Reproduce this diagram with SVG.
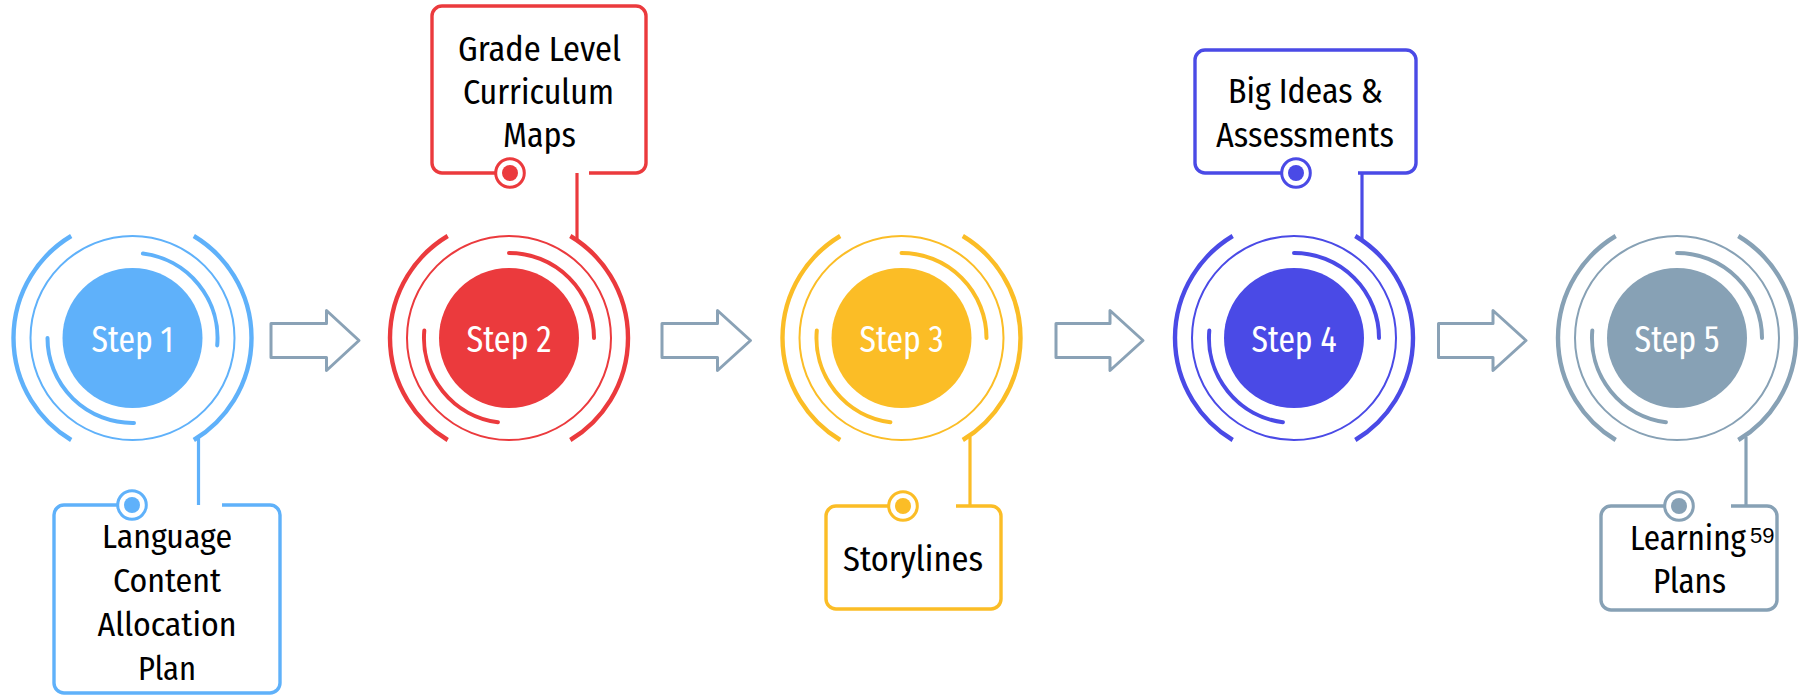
<svg xmlns="http://www.w3.org/2000/svg" width="1806" height="697" viewBox="0 0 1806 697">
<style>
.s1{stroke:#5FB1FA;fill:#5FB1FA}
.s2{stroke:#EB3A3D;fill:#EB3A3D}
.s3{stroke:#FBBD26;fill:#FBBD26}
.s4{stroke:#4A4AE6;fill:#4A4AE6}
.s5{stroke:#87A1B5;fill:#87A1B5}
.outer{fill:none;stroke-width:4.4;stroke-linecap:butt}
.thin{fill:none;stroke-width:2}
.inner{fill:none;stroke-width:4;stroke-linecap:round}
.core{stroke:none}
.step{fill:#FFFFFF;stroke:none;font-family:"Fira Sans Condensed","Open Sans","Roboto",sans-serif;font-stretch:condensed;font-size:36px;text-anchor:middle}
.box{fill:none;stroke-width:3.4;stroke-linejoin:round;stroke-linecap:butt}
.ring{fill:#FFFFFF;stroke-width:3}
.dot{stroke:none}
.lbl{fill:#000000;stroke:none;font-family:"Fira Sans Condensed","Open Sans","Roboto",sans-serif;font-stretch:condensed;font-size:35px;text-anchor:middle}
.link{fill:none;stroke-width:3.2}
.arrow{fill:#FFFFFF;stroke:#8AA2B6;stroke-width:3;stroke-linejoin:round}
</style>
<rect width="1806" height="697" fill="#FFFFFF"/>

<g id="connectors">
  <path class="arrow" d="M271,323.5 H326.5 V310.5 L359,340.5 L326.5,370.5 V357.5 H271 Z"/>
  <path class="arrow" d="M662,323.5 H717.5 V310.5 L750.5,340.5 L717.5,370.5 V357.5 H662 Z"/>
  <path class="arrow" d="M1056,323.5 H1110 V310.5 L1143,340.5 L1110,370.5 V357.5 H1056 Z"/>
  <path class="arrow" d="M1438.5,323.5 H1493 V310.5 L1526,340.5 L1493,370.5 V357.5 H1438.5 Z"/>
  <line class="link s1" x1="198.5" y1="437" x2="198.5" y2="505"/>
  <line class="link s2" x1="577" y1="239" x2="577" y2="173"/>
  <line class="link s3" x1="970" y1="437" x2="970" y2="506"/>
  <line class="link s4" x1="1362" y1="239" x2="1362" y2="173"/>
  <line class="link s5" x1="1746" y1="437" x2="1746" y2="506"/>
</g>

<g id="step1">
  <path class="outer s1" d="M71.2,236 A119 119 0 0 0 71.2,440 M193.8,236 A119 119 0 0 1 193.8,440"/>
  <circle class="thin s1" cx="132.5" cy="338" r="102"/>
  <path class="inner s1" d="M142.9,253.6 A85 85 0 0 1 217.2,345.4 M47.5,338 A85 85 0 0 0 134,423"/>
  <circle class="core s1" cx="132.5" cy="338" r="70"/>
  <text class="step" x="132.5" y="352" textLength="82" lengthAdjust="spacingAndGlyphs">Step 1</text>
</g>

<g id="step2">
  <path class="outer s2" d="M447.7,236 A119 119 0 0 0 447.7,440 M570.3,236 A119 119 0 0 1 570.3,440"/>
  <circle class="thin s2" cx="509" cy="338" r="102"/>
  <path class="inner s2" d="M509,253 A85 85 0 0 1 594,338 M424.3,330.6 A85 85 0 0 0 497.9,422.3"/>
  <circle class="core s2" cx="509" cy="338" r="70"/>
  <text class="step" x="509" y="352" textLength="85" lengthAdjust="spacingAndGlyphs">Step 2</text>
</g>

<g id="step3">
  <path class="outer s3" d="M840.2,236 A119 119 0 0 0 840.2,440 M962.8,236 A119 119 0 0 1 962.8,440"/>
  <circle class="thin s3" cx="901.5" cy="338" r="102"/>
  <path class="inner s3" d="M901.5,253 A85 85 0 0 1 986.5,338 M816.8,330.6 A85 85 0 0 0 890.4,422.3"/>
  <circle class="core s3" cx="901.5" cy="338" r="70"/>
  <text class="step" x="901.5" y="352" textLength="84" lengthAdjust="spacingAndGlyphs">Step 3</text>
</g>

<g id="step4">
  <path class="outer s4" d="M1232.7,236 A119 119 0 0 0 1232.7,440 M1355.3,236 A119 119 0 0 1 1355.3,440"/>
  <circle class="thin s4" cx="1294" cy="338" r="102"/>
  <path class="inner s4" d="M1294,253 A85 85 0 0 1 1379,338 M1209.3,330.6 A85 85 0 0 0 1282.9,422.3"/>
  <circle class="core s4" cx="1294" cy="338" r="70"/>
  <text class="step" x="1294" y="352" textLength="85" lengthAdjust="spacingAndGlyphs">Step 4</text>
</g>

<g id="step5">
  <path class="outer s5" d="M1615.7,236 A119 119 0 0 0 1615.7,440 M1738.3,236 A119 119 0 0 1 1738.3,440"/>
  <circle class="thin s5" cx="1677" cy="338" r="102"/>
  <path class="inner s5" d="M1677,253 A85 85 0 0 1 1762,338 M1592.3,330.6 A85 85 0 0 0 1665.9,422.3"/>
  <circle class="core s5" cx="1677" cy="338" r="70"/>
  <text class="step" x="1677" y="352" textLength="85" lengthAdjust="spacingAndGlyphs">Step 5</text>
</g>

<g id="box1">
  <path class="box s1" d="M222,505 H270 A10 10 0 0 1 280,515 V683 A10 10 0 0 1 270,693 H64 A10 10 0 0 1 54,683 V515 A10 10 0 0 1 64,505 H132"/>
  <circle class="ring s1" cx="132" cy="505" r="14.3"/>
  <circle class="dot s1" cx="132" cy="505" r="8"/>
  <text class="lbl" style="font-size:33px" x="167" y="548" textLength="130" lengthAdjust="spacingAndGlyphs">Language</text>
  <text class="lbl" style="font-size:33px" x="167" y="592" textLength="108" lengthAdjust="spacingAndGlyphs">Content</text>
  <text class="lbl" style="font-size:33px" x="167" y="636" textLength="139" lengthAdjust="spacingAndGlyphs">Allocation</text>
  <text class="lbl" style="font-size:33px" x="167" y="680" textLength="58" lengthAdjust="spacingAndGlyphs">Plan</text>
</g>

<g id="box2">
  <path class="box s2" d="M589,173 H636 A10 10 0 0 0 646,163 V16 A10 10 0 0 0 636,6 H442 A10 10 0 0 0 432,16 V163 A10 10 0 0 0 442,173 H510"/>
  <circle class="ring s2" cx="510" cy="173" r="14.3"/>
  <circle class="dot s2" cx="510" cy="173" r="8"/>
  <text class="lbl" x="539.5" y="61" textLength="163" lengthAdjust="spacingAndGlyphs">Grade Level</text>
  <text class="lbl" x="538.5" y="104" textLength="151" lengthAdjust="spacingAndGlyphs">Curriculum</text>
  <text class="lbl" x="539.5" y="147" textLength="73" lengthAdjust="spacingAndGlyphs">Maps</text>
</g>

<g id="box3">
  <path class="box s3" d="M956,506 H991 A10 10 0 0 1 1001,516 V599 A10 10 0 0 1 991,609 H836 A10 10 0 0 1 826,599 V516 A10 10 0 0 1 836,506 H903"/>
  <circle class="ring s3" cx="903" cy="506" r="14.3"/>
  <circle class="dot s3" cx="903" cy="506" r="8"/>
  <text class="lbl" x="913" y="571" textLength="140" lengthAdjust="spacingAndGlyphs">Storylines</text>
</g>

<g id="box4">
  <path class="box s4" d="M1358,173 H1406 A10 10 0 0 0 1416,163 V60 A10 10 0 0 0 1406,50 H1205 A10 10 0 0 0 1195,60 V163 A10 10 0 0 0 1205,173 H1296"/>
  <circle class="ring s4" cx="1296" cy="173" r="14.3"/>
  <circle class="dot s4" cx="1296" cy="173" r="8"/>
  <text class="lbl" x="1305.5" y="103" textLength="155" lengthAdjust="spacingAndGlyphs">Big Ideas &amp;</text>
  <text class="lbl" x="1305" y="147" textLength="178" lengthAdjust="spacingAndGlyphs">Assessments</text>
</g>

<g id="box5">
  <path class="box s5" d="M1731,506 H1767 A10 10 0 0 1 1777,516 V600 A10 10 0 0 1 1767,610 H1611 A10 10 0 0 1 1601,600 V516 A10 10 0 0 1 1611,506 H1679"/>
  <circle class="ring s5" cx="1679" cy="506" r="14.3"/>
  <circle class="dot s5" cx="1679" cy="506" r="8"/>
  <text class="lbl" x="1688" y="550" textLength="116" lengthAdjust="spacingAndGlyphs">Learning</text>
  <text class="lbl" x="1689.5" y="593" textLength="73" lengthAdjust="spacingAndGlyphs">Plans</text>
  <text x="1750" y="543" style="font-family:'Liberation Sans',Arial,sans-serif;font-size:22px;fill:#000000">59</text>
</g>
</svg>
